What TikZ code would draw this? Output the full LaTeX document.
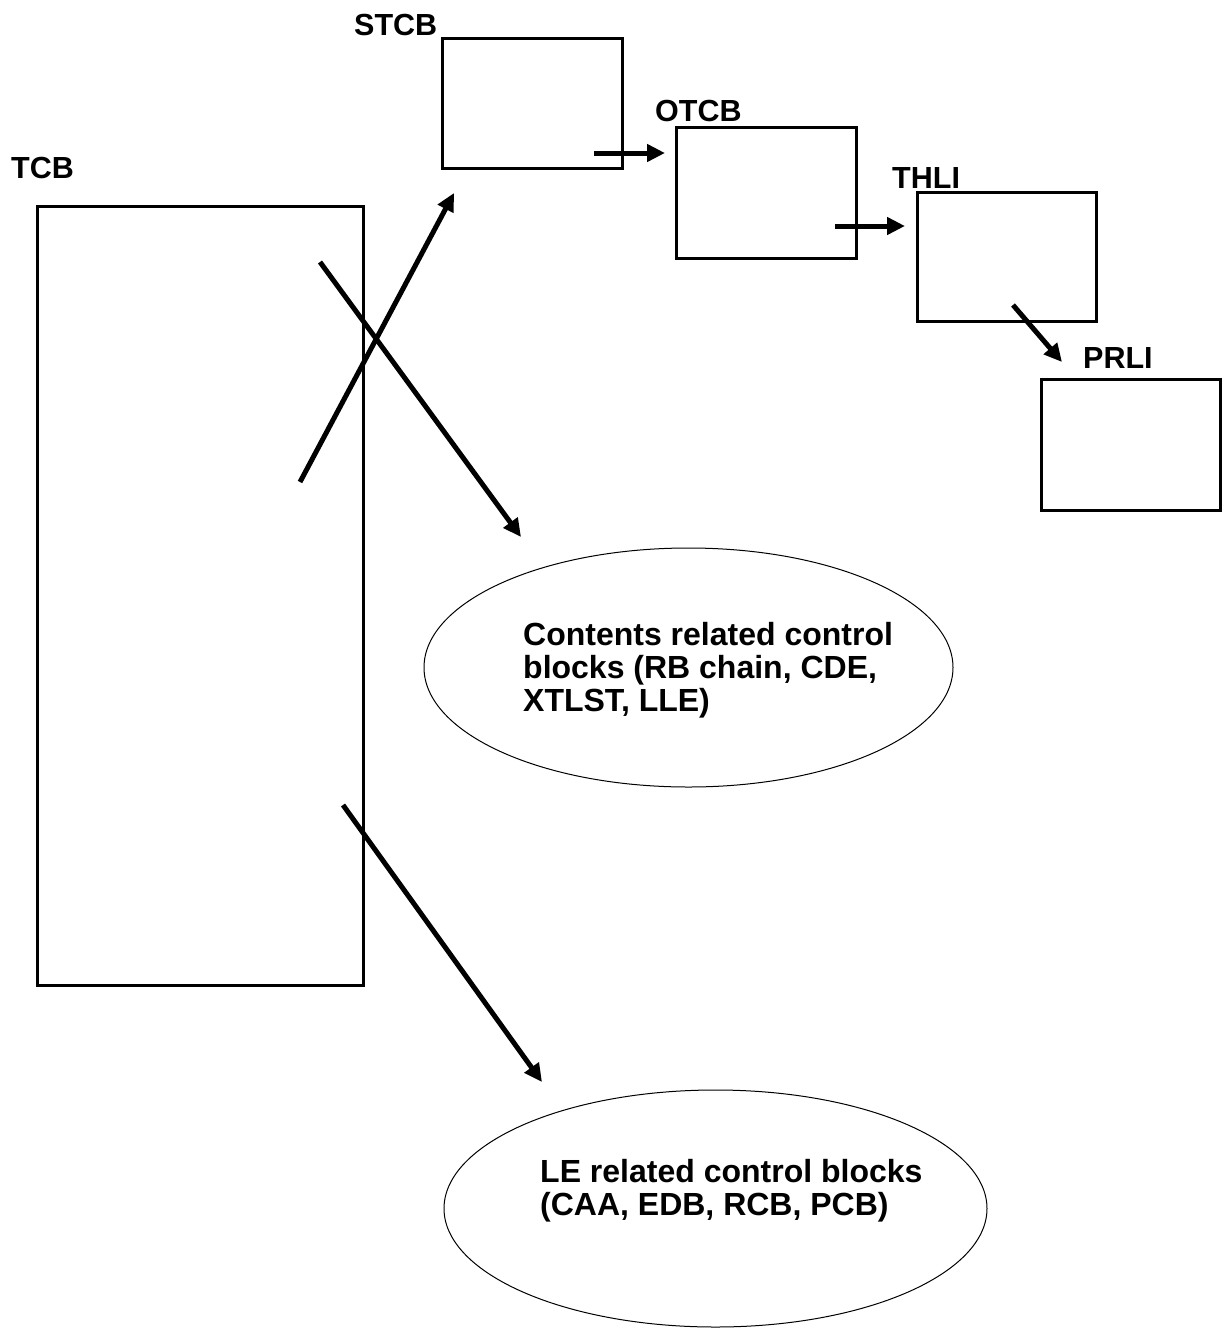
\documentclass[tikz,border=0pt]{standalone}
\usepackage{fontspec}
\setmainfont{Liberation Sans}
\usetikzlibrary{arrows.meta,shapes.geometric}
\begin{document}
\begin{tikzpicture}[x=1pt,y=-1pt,
  box/.style={draw, line width=3pt, rectangle, inner sep=0pt, outer sep=0pt, anchor=north west},
  lab/.style={inner sep=0pt, anchor=base west, font=\fontsize{30.5}{33}\selectfont\bfseries},
  ell/.style={draw, line width=1pt, ellipse, inner sep=0pt, outer sep=0pt},
  etext/.style={inner sep=0pt, anchor=north west, align=left, font=\fontsize{32}{33}\selectfont\bfseries},
  arr/.style={line width=5pt, -{Triangle[length=18pt,width=17pt]}}]
\useasboundingbox[fill=white] (0,0) rectangle (1223,1328);
% boxes
\node[box, minimum width=326pt, minimum height=779pt] (tcb) at (37,206) {};
\node[box, minimum width=180pt, minimum height=130pt] (stcb) at (442,38) {};
\node[box, minimum width=180pt, minimum height=131pt] (otcb) at (676,127) {};
\node[box, minimum width=179pt, minimum height=129pt] (thli) at (917,192) {};
\node[box, minimum width=179pt, minimum height=131pt] (prli) at (1041,379) {};
% labels
\node[lab] (ltcb) at (11,178) {TCB};
\node[lab] (lstcb) at (354,35) {STCB};
\node[lab] (lotcb) at (655,121) {OTCB};
\node[lab] (lthli) at (892,188) {THLI};
\node[lab] (lprli) at (1083,368) {PRLI};
% ellipses
\node[ell, minimum width=529pt, minimum height=239pt] (e1) at (688.5,667.5) {};
\node[ell, minimum width=543pt, minimum height=237pt] (e2) at (715.5,1208.5) {};
\node[etext] (t1) at (523,622) {Contents related control\\blocks (RB chain, CDE,\\XTLST, LLE)};
\node[etext] (t2) at (540,1159) {LE related control blocks\\(CAA, EDB, RCB, PCB)};
% arrow end points
\coordinate (a1s) at (594,153);  \coordinate (a1e) at (665,153);
\coordinate (a2s) at (835,226);  \coordinate (a2e) at (905,226);
\coordinate (a3s) at (1013,305); \coordinate (a3e) at (1062,362);
\coordinate (a4s) at (300,482);  \coordinate (a4e) at (454,193);
\coordinate (a5s) at (320,262);  \coordinate (a5e) at (521,537);
\coordinate (a6s) at (343,805);  \coordinate (a6e) at (542,1082);
\draw[arr] (a1s) -- (a1e);
\draw[arr] (a2s) -- (a2e);
\draw[arr] (a3s) -- (a3e);
\draw[arr] (a4s) -- (a4e);
\draw[arr] (a5s) -- (a5e);
\draw[arr] (a6s) -- (a6e);
\end{tikzpicture}
\end{document}
